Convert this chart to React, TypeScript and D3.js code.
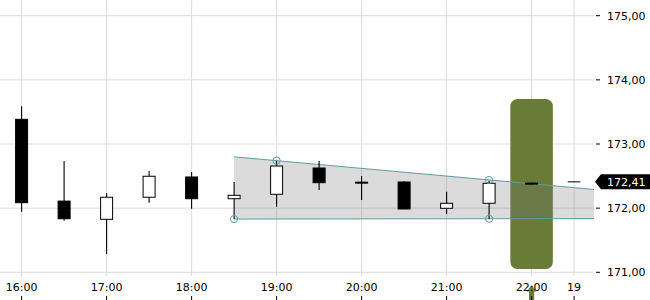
import React from "react";
import * as d3 from "d3";

const times = ["16:00","16:30","17:00","17:30","18:00","18:30","19:00","19:30","20:00","20:30","21:00","21:30","22:00","19"];
const tickLabels = ["16:00","","17:00","","18:00","","19:00","","20:00","","21:00","","22:00","19"];
const openV = [173.385,172.11,171.826,172.17,172.486,172.147,172.216,172.626,172.405,172.408,171.998,172.076,172.39,172.41];
const highV = [173.59,172.735,172.236,172.58,172.563,172.408,172.74,172.735,172.5,172.419,172.256,172.428,172.4,172.41];
const lowV = [171.945,171.805,171.285,172.085,171.99,171.83,172.023,172.283,172.127,171.985,171.909,171.83,172.37,172.41];
const closeV = [172.085,171.835,172.17,172.497,172.147,172.2,172.657,172.397,172.39,171.987,172.076,172.387,172.375,172.41];

const yTicks = [171, 172, 173, 174, 175];
const lastPrice = 172.41;

// wedge pattern anchors (candle index, price)
const upperAnchors = [[6, 172.74], [11, 172.44]];
const lowerAnchors = [[5, 171.83], [11, 171.835]];
const patternStart = 5;

// highlighted event candle and its vertical span
const eventIndex = 12;
const eventSpan = [171.05, 173.7];

const W = 650, H = 300;
const plotRight = 594;
const plotBottom = 276;

export default function App() {
  const x = d3.scaleLinear().domain([0, times.length - 1]).range([21.6, 21.6 + 42.5 * (times.length - 1)]);
  const step = x(1) - x(0);
  const y = d3.scaleLinear().domain([171, 175]).range([272.3, 15.7]);
  const fmt = (v: number) => d3.format(".2f")(v).replace(".", ",");

  const lineAt = (a: number[][], i: number) => {
    const [i0, v0] = a[0];
    const [i1, v1] = a[1];
    return v0 + ((v1 - v0) * (i - i0)) / (i1 - i0);
  };
  const endIdx = x.invert(plotRight);
  const upStart = lineAt(upperAnchors, patternStart);
  const upEnd = lineAt(upperAnchors, endIdx);
  const loStart = lineAt(lowerAnchors, patternStart);
  const loEnd = lineAt(lowerAnchors, endIdx);
  const teal = "#5c9fa3";

  const wedge = d3.line<number[]>().x(d => x(d[0])).y(d => y(d[1]))([
    [patternStart, upStart], [endIdx, upEnd], [endIdx, loEnd], [patternStart, loStart],
  ]) + "Z";

  const py = y(lastPrice);
  const ex = x(eventIndex);

  return (
    <svg width={W} height={H} style={{ position: "absolute", left: 0, top: 0, fontFamily: "DejaVu Sans", fontSize: 11 }}>
      <rect width={W} height={H} fill="#fff" />
      {/* grid */}
      {yTicks.map(t => (
        <line key={"gy" + t} x1={0} x2={plotRight} y1={y(t)} y2={y(t)} stroke="#dcdcdc" strokeWidth={1} />
      ))}
      {tickLabels.map((l, i) => l ? (
        <line key={"gx" + i} x1={x(i)} x2={x(i)} y1={0} y2={plotBottom} stroke="#dcdcdc" strokeWidth={1} />
      ) : null)}
      {/* event highlight */}
      <rect x={ex - step / 2} width={step} y={y(eventSpan[1])} height={y(eventSpan[0]) - y(eventSpan[1])} rx={7} fill="#687c38" />
      {/* wedge */}
      <path d={wedge} fill="rgba(115,115,115,0.26)" stroke="none" />
      <line x1={x(patternStart)} y1={y(upStart)} x2={x(endIdx)} y2={y(upEnd)} stroke={teal} strokeWidth={1} />
      <line x1={x(patternStart)} y1={y(loStart)} x2={x(endIdx)} y2={y(loEnd)} stroke={teal} strokeWidth={1} />
      {/* candles */}
      {times.map((t, i) => {
        const cx = x(i);
        const o = openV[i], c = closeV[i];
        const top = y(Math.max(o, c)), bot = y(Math.min(o, c));
        const up = c >= o;
        const h = bot - top;
        return (
          <g key={"c" + i}>
            {highV[i] !== lowV[i] && (
              <line x1={cx} x2={cx} y1={y(highV[i])} y2={y(lowV[i])} stroke="#000" strokeWidth={1.1} />
            )}
            {h < 0.5 ? (
              <line x1={cx - 6.3} x2={cx + 6.3} y1={top} y2={top} stroke="#000" strokeWidth={1} />
            ) : (
              <rect x={cx - 6} width={12} y={top} height={h} fill={up ? "#fff" : "#000"} stroke="#000" strokeWidth={1} />
            )}
          </g>
        );
      })}
      {/* anchor circles */}
      {[...upperAnchors, ...lowerAnchors].map((a, k) => (
        <circle key={"a" + k} cx={x(a[0])} cy={y(a[1])} r={3.6} fill="none" stroke={teal} strokeWidth={1} />
      ))}
      {/* right axis */}
      {yTicks.map(t => (
        <g key={"yt" + t}>
          <line x1={596} x2={600} y1={y(t)} y2={y(t)} stroke="#000" strokeWidth={1} />
          <text x={607} y={y(t)} dy="0.36em" fill="#000">{fmt(t)}</text>
        </g>
      ))}
      {/* price flag */}
      <path d={`M595,${py} L601,${py - 7.5} L650,${py - 7.5} L650,${py + 7.5} L601,${py + 7.5} Z`} fill="#000" />
      <text x={607} y={py} dy="0.36em" fill="#fff">{fmt(lastPrice)}</text>
      {/* event arrow */}
      <path d={`M${ex},285 L${ex + 4.8},291.5 L${ex + 2.6},291.5 L${ex + 2.6},300 L${ex - 2.6},300 L${ex - 2.6},291.5 L${ex - 4.8},291.5 Z`} fill="#687c38" />
      {/* x axis */}
      {tickLabels.map((l, i) => l ? (
        <g key={"xt" + i}>
          <text x={x(i)} y={291} textAnchor="middle" fill="#000">{l}</text>
          <line x1={x(i)} x2={x(i)} y1={296} y2={300} stroke="#000" strokeWidth={1} />
        </g>
      ) : null)}
    </svg>
  );
}
